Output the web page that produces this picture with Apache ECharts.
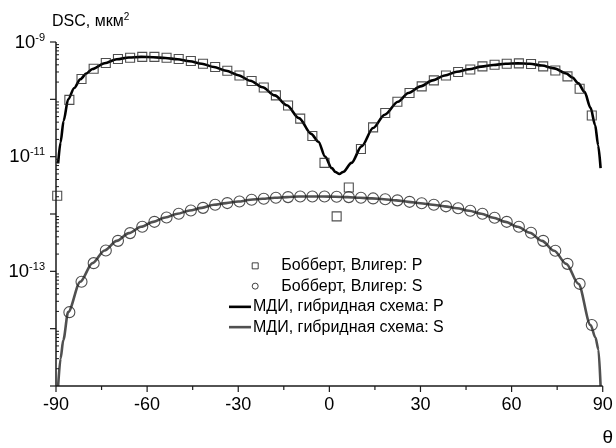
<!DOCTYPE html>
<html>
<head>
<meta charset="utf-8">
<script src="https://cdn.jsdelivr.net/npm/echarts@6/dist/echarts.min.js"></script>
<style>html,body{margin:0;padding:0;background:#fff}#c{width:616px;height:448px;background:#fff}</style>
</head>
<body>
<div id="c"></div>
<script>
// ---- data ----
const pMarkTheta = [-89.6,-85.6,-81.6,-77.6,-73.6,-69.6,-65.6,-61.6,-57.6,-53.6,-49.6,-45.6,-41.6,-37.6,-33.6,-29.6,-25.6,-21.6,-17.6,-13.6,-9.6,-5.6,-1.6,2.4,6.4,10.4,14.4,18.4,22.4,26.4,30.4,34.4,38.4,42.4,46.4,50.4,54.4,58.4,62.4,66.4,70.4,74.4,78.4,82.4,86.4];
const pMarkVal = [2.08e-12,9.8e-11,2.26e-10,3.42e-10,4.3e-10,5.05e-10,5.3e-10,5.5e-10,5.5e-10,5.3e-10,5.05e-10,4.66e-10,4.18e-10,3.66e-10,3.16e-10,2.61e-10,2.09e-10,1.61e-10,1.17e-10,7.8e-11,4.6e-11,2.29e-11,7.8e-12,9.1e-13,2.9e-12,1.36e-11,3.24e-11,5.77e-11,9.1e-11,1.29e-10,1.68e-10,2.14e-10,2.61e-10,2.99e-10,3.32e-10,3.75e-10,4.02e-10,4.18e-10,4.23e-10,4.13e-10,3.75e-10,3.19e-10,2.51e-10,1.53e-10,5.24e-11];

const sMarkTheta = [-85.6,-81.6,-77.6,-73.6,-69.6,-65.6,-61.6,-57.6,-53.6,-49.6,-45.6,-41.6,-37.6,-33.6,-29.6,-25.6,-21.6,-17.6,-13.6,-9.6,-5.6,-1.6,2.4,6.4,10.4,14.4,18.4,22.4,26.4,30.4,34.4,38.4,42.4,46.4,50.4,54.4,58.4,62.4,66.4,70.4,74.4,78.4,82.4,86.4];
const sMarkVal = [1.94e-14,6.6e-14,1.39e-13,2.31e-13,3.4e-13,4.64e-13,5.98e-13,7.3e-13,8.7e-13,1.01e-12,1.15e-12,1.28e-12,1.45e-12,1.55e-12,1.65e-12,1.77e-12,1.84e-12,1.92e-12,1.97e-12,2.02e-12,2.02e-12,2.02e-12,2.0e-12,1.97e-12,1.92e-12,1.87e-12,1.81e-12,1.73e-12,1.63e-12,1.54e-12,1.45e-12,1.36e-12,1.26e-12,1.14e-12,1.01e-12,8.6e-13,7.3e-13,5.98e-13,4.7e-13,3.4e-13,2.28e-13,1.35e-13,6.05e-14,1.16e-14];

const pLineTheta = [-89.3,-88.5,-87.5,-86,-84,-82,-80,-78,-74,-70,-66,-62,-58,-54,-50,-46,-42,-38,-34,-30,-26,-22,-18,-14,-10,-6,-3.6,-1.4,0.8,2.0,3.3,4.5,7.3,10.6,14.4,18.2,22.6,26,30,34,38,42,46,50,54,58,62,66,70,74,78,80,82,84,86,87.5,88.5,89.3];
const pLineVal = [7.6e-12,1.78e-11,4.2e-11,1.0e-10,1.58e-10,2.24e-10,2.82e-10,3.39e-10,4.27e-10,5.0e-10,5.37e-10,5.5e-10,5.43e-10,5.25e-10,5.0e-10,4.62e-10,4.17e-10,3.67e-10,3.16e-10,2.63e-10,2.11e-10,1.62e-10,1.17e-10,7.9e-11,4.7e-11,2.5e-11,1.82e-11,1.0e-11,6.3e-12,5.4e-12,5.0e-12,5.4e-12,7.8e-12,1.51e-11,3.16e-11,5.4e-11,9.1e-11,1.29e-10,1.68e-10,2.14e-10,2.6e-10,3.02e-10,3.35e-10,3.72e-10,3.98e-10,4.17e-10,4.24e-10,4.17e-10,3.89e-10,3.47e-10,2.82e-10,2.4e-10,1.9e-10,1.35e-10,7.1e-11,3.55e-11,1.58e-11,6.3e-12];

const sLineTheta = [-89.3,-88.5,-87.6,-86,-82,-78,-74,-70,-66,-62,-58,-54,-50,-46,-42,-38,-34,-30,-26,-22,-18,-14,-10,-6,-2,2,6,10,14,18,22,26,30,34,38,42,46,50,54,58,62,66,70,74,78,82,86,87.6,88.6,89.3];
const sLineVal = [1.0e-15,3.0e-15,6.3e-15,1.94e-14,6.6e-14,1.39e-13,2.31e-13,3.4e-13,4.64e-13,5.98e-13,7.3e-13,8.7e-13,1.01e-12,1.15e-12,1.28e-12,1.45e-12,1.55e-12,1.65e-12,1.77e-12,1.84e-12,1.92e-12,1.97e-12,2.02e-12,2.02e-12,2.02e-12,2.0e-12,1.97e-12,1.92e-12,1.87e-12,1.81e-12,1.73e-12,1.63e-12,1.54e-12,1.45e-12,1.36e-12,1.26e-12,1.14e-12,1.01e-12,8.6e-13,7.3e-13,5.98e-13,4.7e-13,3.4e-13,2.28e-13,1.35e-13,6.05e-14,1.16e-14,7.0e-15,4.3e-15,1.0e-15];

const xRange = [-90, 90];
const yRange = [1e-15, 1e-9];
const xTickStep = 30;
const xMajorTicks = [-90, -60, -30, 0, 30, 60, 90];
const xMinorTicks = [-75, -45, -15, 15, 45, 75];
const yMajorTicks = [1e-15, 1e-14, 1e-13, 1e-12, 1e-11, 1e-10, 1e-9];
const yLabelTicks = [1e-13, 1e-11, 1e-9];
const legendNames = ['Бобберт, Влигер: P','Бобберт, Влигер: S','МДИ, гибридная схема: P','МДИ, гибридная схема: S'];

// minor log ticks 2..9 in each decade
const yMinorTicks = [];
for (let e = -15; e < -9; e++) for (let k = 2; k <= 9; k++) yMinorTicks.push(k * Math.pow(10, e));

// axis frame items: [x, y, kind]; kinds: 0 x major tick, 1 x minor tick, 2 y major tick, 3 y minor tick, 4 x axis line, 5 y axis line
const frameItems = []
  .concat(xMajorTicks.map(v => [v, yRange[0], 0]))
  .concat(xMinorTicks.map(v => [v, yRange[0], 1]))
  .concat(yMajorTicks.map(v => [xRange[0], v, 2]))
  .concat(yMinorTicks.map(v => [xRange[0], v, 3]))
  .concat([[xRange[0], yRange[0], 4], [xRange[0], yRange[0], 5]]);

const zip = (a, b) => a.map((v, i) => [v, b[i]]);
const FONT = "'Liberation Sans', Arial, sans-serif";
const AX = '#1a1a1a';

function renderFrame(params, api) {
  const x = api.value(0), y = api.value(1), k = api.value(2);
  const p = api.coord([x, y]);
  let x1, y1, x2, y2, w = 1.2;
  if (k === 0) { x1 = p[0]; y1 = p[1]; x2 = p[0]; y2 = p[1] + 6; }
  else if (k === 1) { x1 = p[0]; y1 = p[1]; x2 = p[0]; y2 = p[1] + 4; }
  else if (k === 2) { x1 = p[0] - 6; y1 = p[1]; x2 = p[0]; y2 = p[1]; }
  else if (k === 3) { x1 = p[0]; y1 = p[1]; x2 = p[0] + 3; y2 = p[1]; w = 1; }
  else if (k === 4) { const a = api.coord([xRange[0], yRange[0]]), b = api.coord([xRange[1], yRange[0]]); x1 = a[0]; y1 = a[1]; x2 = b[0]; y2 = b[1]; w = 1.5; }
  else { const a = api.coord([xRange[0], yRange[0]]), b = api.coord([xRange[0], yRange[1]]); x1 = a[0]; y1 = a[1]; x2 = b[0]; y2 = b[1]; w = 1.5; }
  return {type: 'line', shape: {x1: x1, y1: y1, x2: x2, y2: y2}, style: {stroke: AX, lineWidth: w}, silent: true};
}

const chart = echarts.init(document.getElementById('c'), null, {renderer: 'canvas'});
chart.setOption({
  animation: false,
  title: {
    text: '{a|DSC, мкм}{s|2}', left: 47, top: 7,
    textStyle: {fontWeight: 'normal', fontFamily: FONT, rich: {
      a: {fontSize: 16, fontFamily: FONT, fontWeight: 'normal', color: '#000', verticalAlign: 'bottom', lineHeight: 18},
      s: {fontSize: 10, fontFamily: FONT, fontWeight: 'normal', color: '#000', verticalAlign: 'top', lineHeight: 12}}}
  },
  grid: {left: 56, right: 10, top: 42, bottom: 62},
  xAxis: {
    type: 'value', min: xRange[0], max: xRange[1], interval: xTickStep,
    name: 'θ', nameLocation: 'end', nameGap: 5,
    nameTextStyle: {fontSize: 19, fontFamily: FONT, color: '#000', align: 'center', verticalAlign: 'top', padding: [42, 0, 0, 0]},
    axisLine: {show: false, onZero: false},
    axisTick: {show: false},
    minorTick: {show: false},
    axisLabel: {fontSize: 18, color: '#000', margin: 10, fontFamily: FONT},
    splitLine: {show: false}
  },
  yAxis: {
    type: 'log', logBase: 10, min: yRange[0], max: yRange[1], position: 'left',
    axisLine: {show: false, onZero: false},
    axisTick: {show: false},
    axisLabel: {
      customValues: yLabelTicks, margin: 11, fontFamily: FONT,
      formatter: v => '{b|10}{s|' + Math.round(Math.log10(v)) + '}',
      rich: {b: {fontSize: 18.5, fontFamily: FONT, color: '#000', verticalAlign: 'bottom', lineHeight: 20},
             s: {fontSize: 11, fontFamily: FONT, color: '#000', verticalAlign: 'top', lineHeight: 12}}
    },
    splitLine: {show: false}
  },
  legend: [{
    orient: 'vertical', left: 246.7, top: 250.7, itemGap: 0,
    itemWidth: 6, itemHeight: 6,
    data: [
      {name: legendNames[0], icon: 'rect', itemStyle: {color: 'rgba(255,255,255,0)', borderColor: '#111', borderWidth: 1}},
      {name: legendNames[1], icon: 'circle', itemStyle: {color: 'rgba(255,255,255,0)', borderColor: '#111', borderWidth: 1}}
    ],
    textStyle: {fontSize: 16, fontFamily: FONT, color: '#000', lineHeight: 20.3, padding: [0, 0, 0, 18]}
  }, {
    orient: 'vertical', left: 224, top: 291.7, itemGap: 0,
    itemWidth: 22, itemHeight: 2.6,
    data: [
      {name: legendNames[2], icon: 'rect', itemStyle: {color: '#000', borderWidth: 0}},
      {name: legendNames[3], icon: 'rect', itemStyle: {color: '#505050', borderWidth: 0}}
    ],
    textStyle: {fontSize: 16, fontFamily: FONT, color: '#000', lineHeight: 20.3, padding: [0, 0, 0, -3]}
  }],
  series: [{
    name: legendNames[2], type: 'line', data: zip(pLineTheta, pLineVal),
    showSymbol: false, symbol: 'none', smooth: 0.3, smoothMonotone: 'x',
    lineStyle: {color: '#000', width: 2.6}, itemStyle: {color: '#000'}, z: 2
  }, {
    name: legendNames[3], type: 'line', data: zip(sLineTheta, sLineVal),
    showSymbol: false, symbol: 'none', smooth: 0.3, smoothMonotone: 'x',
    lineStyle: {color: '#505050', width: 2.6}, itemStyle: {color: '#505050'}, z: 2
  }, {
    name: legendNames[0], type: 'scatter', data: zip(pMarkTheta, pMarkVal),
    symbol: 'rect', symbolSize: 9,
    itemStyle: {color: 'rgba(255,255,255,0)', borderColor: '#222', borderWidth: 1.1}, z: 3
  }, {
    name: legendNames[1], type: 'scatter', data: zip(sMarkTheta, sMarkVal),
    symbol: 'circle', symbolSize: 11,
    itemStyle: {color: 'rgba(255,255,255,0)', borderColor: '#222', borderWidth: 1.1}, z: 3
  }, {
    name: 'axes', type: 'custom', data: frameItems, encode: {x: 0, y: 1},
    renderItem: renderFrame, clip: false, silent: true, z: 6
  }]
});
</script>
</body>
</html>
